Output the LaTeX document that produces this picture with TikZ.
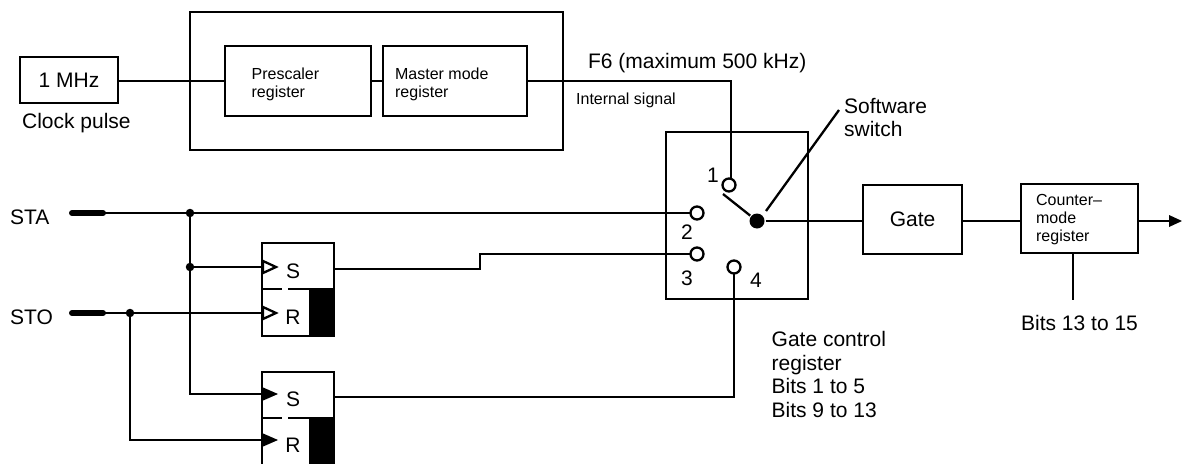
\documentclass[tikz,border=0pt]{standalone}
\usepackage{fontspec}
\setmainfont{Liberation Sans}
\begin{document}
\begin{tikzpicture}[x=1pt,y=-1pt,line width=2.3pt,
  box/.style={draw=black,line width=2.3pt,inner sep=0pt,outer sep=0pt,anchor=north west},
  lbl/.style={inner sep=0pt,font=\fontsize{21}{23.5}\selectfont,align=left},
  sml/.style={inner sep=0pt,font=\fontsize{16}{18}\selectfont,align=left},
  contact/.style={circle,draw=black,fill=white,line width=2.3pt,minimum size=13pt,inner sep=0pt,outer sep=0pt},
  jun/.style={circle,fill=black,minimum size=8.5pt,inner sep=0pt,outer sep=0pt},
  term/.style={line width=6pt,line cap=round}]
\useasboundingbox (0,0) rectangle (1182,463);
% boxes
\node[box,minimum width=98pt,minimum height=46pt,font=\fontsize{21}{23}\selectfont] (clk) at (20,57) {1 MHz};
\node[box,minimum width=373pt,minimum height=138pt] (outer) at (190,12) {};
\node[box,minimum width=146pt,minimum height=70pt] (pre) at (225,46) {};
\node[box,minimum width=144pt,minimum height=70pt] (mas) at (383,46) {};
\node[sml,anchor=west] at (250.5,84) {Prescaler\\register};
\node[sml,anchor=west] at (394,84) {Master mode\\register};
\node[box,minimum width=142pt,minimum height=167pt] (sw) at (666,132) {};
\node[box,minimum width=99pt,minimum height=69pt,font=\fontsize{21}{23}\selectfont] (gate) at (863,185) {Gate};
\node[box,minimum width=117pt,minimum height=69pt] (cnt) at (1021,184) {};
\node[sml,anchor=west] at (1035,220) {Counter–\\mode\\register};
% flip-flops
\node[box,minimum width=72pt,minimum height=93pt] (ffa) at (262,243) {};
\node[box,minimum width=72pt,minimum height=93pt] (ffb) at (262,372) {};
\fill (309,288) rectangle (335,337);
\fill (309,417) rectangle (335,464);
\draw (262,289) -- (282,289) (288,289) -- (309,289);
\draw (262,418) -- (282,418) (288,418) -- (309,418);
\node[lbl] at (293,271) {S};
\node[lbl] at (293,317) {R};
\node[lbl] at (293,399) {S};
\node[lbl] at (293,445) {R};
% named points
\coordinate (staT) at (72,213);
\coordinate (staE) at (103,213);
\coordinate (stoT) at (72,313);
\coordinate (stoE) at (103,313);
\node[jun] (j1) at (190,213) {};
\node[jun] (j2) at (190,267) {};
\node[jun] (j3) at (130,313) {};
\node[circle,fill=black,minimum size=15pt,inner sep=0pt] (dot) at (757,221) {};
\coordinate (lev) at (723,194);
\coordinate (pa) at (766,211);
\coordinate (pb) at (839,110);
\coordinate (ain) at (262,267);
\coordinate (rin) at (262,313);
\coordinate (bin) at (262,394);
\coordinate (din) at (262,440);
\coordinate (cy) at (0,81);
\coordinate (gy) at (0,221);
% connectors
\draw[term] (staT) -- (staE);
\draw[term] (stoT) -- (stoE);
\draw (staE) -- (j1) -- (697,213);
\draw (stoE) -- (j3) -- (rin);
\draw (j1) -- (j2) -- (190,394) -- (bin);
\draw (j2) -- (ain);
\draw (j3) -- (130,440) -- (din);
\draw (clk.east |- cy) -- (pre.west |- cy);
\draw (pre.east |- cy) -- (mas.west |- cy);
\draw (mas.east |- cy) -- (731,81) -- (731,179);
\draw (ffa.east |- 0,269) -- (480,269) -- (480,254) -- (697,254);
\draw (ffb.east |- 0,397) -- (734,397) -- (734,267);
\draw (dot) -- (lev);
\draw (pa) -- (pb);
\draw (dot) -- (gate.west |- gy);
\draw (gate.east |- gy) -- (cnt.west |- gy);
\draw (cnt.east |- gy) -- (1170,221);
\fill (1169,215) -- (1182,221) -- (1169,227) -- cycle;
\draw (cnt.south -| 1073,0) -- (1073,300);
% contacts above wires
\node[contact] (c1) at (729,185) {};
\node[contact] (c2) at (697,213) {};
\node[contact] (c3) at (697,254) {};
\node[contact] (c4) at (734,267) {};
% input triangles
\draw[fill=white] (263,261) -- (276,267) -- (263,273) -- cycle;
\draw[fill=white] (263,307) -- (276,313) -- (263,319) -- cycle;
\fill (262,387) -- (278,394) -- (262,401) -- cycle;
\fill (262,433) -- (278,440) -- (262,447) -- cycle;
% labels
\node[lbl,anchor=west] at (21,123) {Clock pulse};
\node[lbl,anchor=west] at (587,63) {F6 (maximum 500 kHz)};
\node[sml,anchor=west] at (575,100) {Internal signal};
\node[lbl,anchor=west] at (843,117.5) {Software\\switch};
\node[lbl,anchor=west] at (9,217) {STA};
\node[lbl,anchor=west] at (9,317) {STO};
\node[lbl] at (713,175) {1};
\node[lbl] at (687,232) {2};
\node[lbl] at (687,278) {3};
\node[lbl] at (756,280) {4};
\node[lbl,anchor=west] at (770.5,374.5) {Gate control\\register\\Bits 1 to 5\\Bits 9 to 13};
\node[lbl,anchor=west] at (1020,323) {Bits 13 to 15};
\end{tikzpicture}
\end{document}
